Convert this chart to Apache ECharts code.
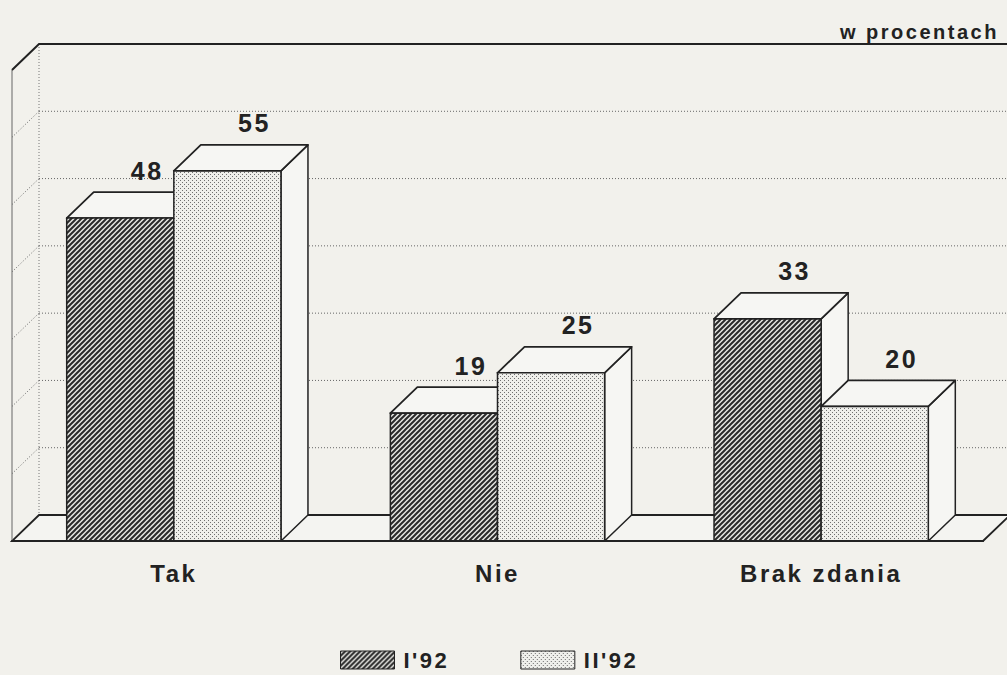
<!DOCTYPE html>
<html>
<head>
<meta charset="utf-8">
<script src="https://cdn.jsdelivr.net/npm/echarts@6/dist/echarts.min.js"></script>
<style>
  html, body { margin: 0; padding: 0; background: #f2f1ec; }
  #chart { width: 1007px; height: 675px; }
  #chart text { letter-spacing: 2.5px; }
</style>
</head>
<body>
<div id="chart"></div>
<script>
// ---- data ----
var categories = ['Tak', 'Nie', 'Brak zdania'];
var seriesNames = ["I'92", "II'92"];
var valuesI92 = [48, 19, 33];
var valuesII92 = [55, 25, 20];
var yTicks = [0, 10, 20, 30, 40, 50, 60, 70];
var unitLabel = 'w procentach';

// ---- styles ----
var DX = 27, DY = -26;          // 3D depth offset (px)
var BAR_FRAC = 0.331;           // bar width as fraction of category band
var BG = '#f2f1ec';
var FACE = '#f6f6f3';
var INK = '#222';
var FONT = 'Liberation Sans, Arial, sans-serif';

function makeHatch() {
  var s = 5, c = document.createElement('canvas');
  c.width = s; c.height = s;
  var g = c.getContext('2d');
  g.fillStyle = '#e6e6e2'; g.fillRect(0, 0, s, s);
  g.strokeStyle = '#2a2a2a'; g.lineWidth = 2.0;
  g.beginPath();
  g.moveTo(0, s); g.lineTo(s, 0);
  g.moveTo(-1, 1); g.lineTo(1, -1);
  g.moveTo(s - 1, s + 1); g.lineTo(s + 1, s - 1);
  g.stroke();
  return { image: c, repeat: 'repeat', imageWidth: s, imageHeight: s };
}
function makeDots() {
  var s = 4, c = document.createElement('canvas');
  c.width = s; c.height = s;
  var g = c.getContext('2d');
  g.fillStyle = '#efefeb'; g.fillRect(0, 0, s, s);
  g.fillStyle = '#6f6f6f';
  g.fillRect(0, 0, 1, 1);
  g.fillRect(2, 2, 1, 1);
  return { image: c, repeat: 'repeat', imageWidth: s, imageHeight: s };
}
var patterns = [makeHatch(), makeDots()];

function barRenderer(si) {
  return function (params, api) {
    var cat = api.value(0), val = api.value(1);
    var base = api.coord([cat, 0]);
    var top = api.coord([cat, val]);
    var band = api.size([1, 0])[0];
    var w = band * BAR_FRAC;
    var x0 = base[0] + (si === 0 ? -w : 0);
    var x1 = x0 + w;
    var yb = base[1], yt = top[1];
    return {
      type: 'group',
      children: [
        { type: 'polygon', shape: { points: [[x1, yt], [x1 + DX, yt + DY], [x1 + DX, yb + DY], [x1, yb]] },
          style: { fill: FACE, stroke: INK, lineWidth: 1.5, lineJoin: 'round' } },
        { type: 'polygon', shape: { points: [[x0, yt], [x1, yt], [x1 + DX, yt + DY], [x0 + DX, yt + DY]] },
          style: { fill: FACE, stroke: INK, lineWidth: 1.8, lineJoin: 'round' } },
        { type: 'rect', shape: { x: x0, y: yt, width: w, height: yb - yt },
          style: { fill: patterns[si], stroke: INK, lineWidth: 1.5 } },
        { type: 'text', x: (x0 + x1) / 2 + DX, y: yt + DY - 9,
          style: { text: String(val), fill: INK, font: 'bold 25px ' + FONT, textAlign: 'center', textVerticalAlign: 'bottom' } }
      ]
    };
  };
}

function frameRenderer(params, api) {
  var cs = params.coordSys;
  var xl = cs.x, xr = cs.x + cs.width;
  var ch = [];
  var yTop = api.coord([0, yTicks[yTicks.length - 1]])[1];
  var y0 = api.coord([0, yTicks[0]])[1];
  // floor
  ch.push({ type: 'polygon', shape: { points: [[xl, y0], [xr, y0], [xr + DX, y0 + DY], [xl + DX, y0 + DY]] },
    style: { fill: '#f4f4f1', stroke: INK, lineWidth: 1.8 } });
  // back wall & left wall gridlines
  for (var i = 1; i < yTicks.length - 1; i++) {
    var y = api.coord([0, yTicks[i]])[1];
    ch.push({ type: 'line', shape: { x1: xl + DX, y1: y + DY, x2: xr + DX + 40, y2: y + DY },
      style: { stroke: '#666', lineWidth: 1, lineDash: [1, 2] } });
    ch.push({ type: 'line', shape: { x1: xl, y1: y, x2: xl + DX, y2: y + DY },
      style: { stroke: '#666', lineWidth: 1, lineDash: [1, 2] } });
  }
  // back wall left edge (dotted)
  ch.push({ type: 'line', shape: { x1: xl + DX, y1: yTop + DY, x2: xl + DX, y2: y0 + DY },
    style: { stroke: '#777', lineWidth: 1, lineDash: [1, 2] } });
  // left wall front edge
  ch.push({ type: 'line', shape: { x1: xl, y1: yTop, x2: xl, y2: y0 },
    style: { stroke: '#666', lineWidth: 1 } });
  // top edges
  ch.push({ type: 'polyline', shape: { points: [[xl, yTop], [xl + DX, yTop + DY], [xr + DX + 40, yTop + DY]] },
    style: { stroke: INK, lineWidth: 2, fill: null } });
  return { type: 'group', children: ch };
}

function toData(arr) { return arr.map(function (v, i) { return [i, v]; }); }

var chart = echarts.init(document.getElementById('chart'), null, { renderer: 'svg' });
chart.setOption({
  backgroundColor: BG,
  animation: false,
  title: {
    text: unitLabel, left: 835, top: 17,
    textStyle: { fontFamily: FONT, fontSize: 20, fontWeight: 'bold', color: INK }
  },
  legend: {
    data: seriesNames, left: 335, top: 644, itemWidth: 54, itemHeight: 18, itemGap: 81,
    icon: 'rect',
    textStyle: { fontFamily: FONT, fontSize: 22, fontWeight: 'bold', color: INK, padding: [0, 0, 0, 4] },
    itemStyle: { borderColor: INK, borderWidth: 1 }
  },
  grid: { left: 12, right: 24, top: 70, bottom: 134 },
  xAxis: {
    type: 'category', data: categories,
    axisLine: { lineStyle: { color: INK, width: 2 } },
    axisTick: { alignWithLabel: true, length: 10, lineStyle: { color: '#888' } },
    axisLabel: { fontFamily: FONT, fontSize: 24, fontWeight: 'bold', color: INK, margin: 20 },
    z: 5
  },
  yAxis: { type: 'value', min: 0, max: 70, interval: 10, show: false, splitLine: { show: false } },
  series: [
    { type: 'custom', name: 'frame', renderItem: frameRenderer, data: [[0, 0]], clip: false, z: 1, silent: true },
    { type: 'custom', name: seriesNames[0], renderItem: barRenderer(0), data: toData(valuesI92), clip: false, z: 2,
      itemStyle: { color: patterns[0], borderColor: INK, borderWidth: 1 } },
    { type: 'custom', name: seriesNames[1], renderItem: barRenderer(1), data: toData(valuesII92), clip: false, z: 3,
      itemStyle: { color: patterns[1], borderColor: INK, borderWidth: 1 } }
  ]
});
</script>
</body>
</html>
